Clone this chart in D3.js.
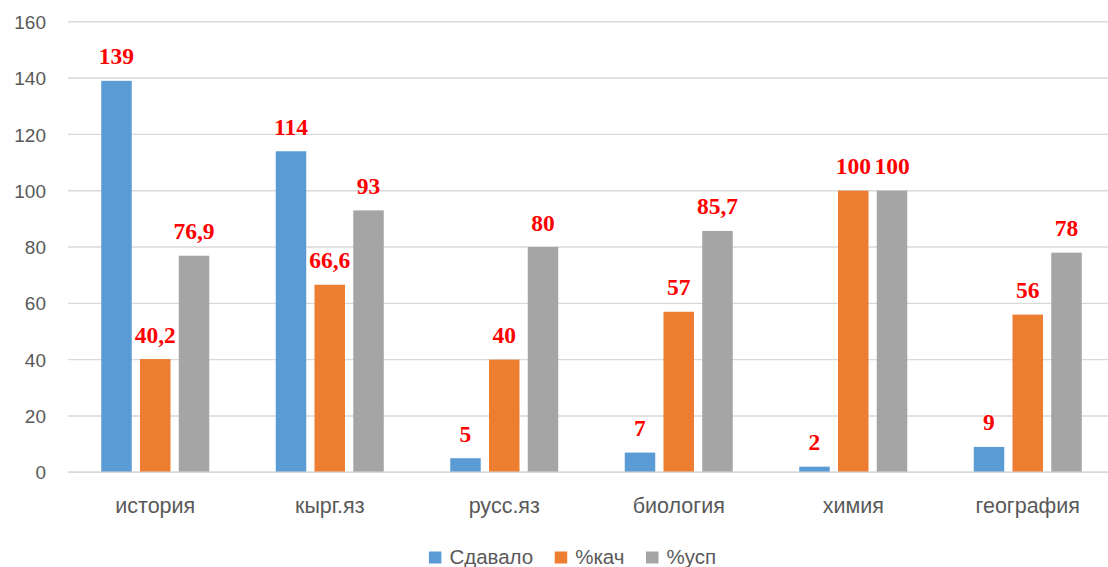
<!DOCTYPE html>
<html><head><meta charset="utf-8">
<script src="https://cdn.jsdelivr.net/npm/d3@7"></script>
<style>body{margin:0;background:#fff}svg{display:block}</style>
</head><body>
<svg id="c" width="1108" height="567"></svg>
<script>
const categories = ["история","кырг.яз","русс.яз","биология","химия","география"];
const seriesNames = ["Сдавало","%кач","%усп"];
const sdavalo = [139,114,5,7,2,9];
const kach = [40.2,66.6,40,57,100,56];
const usp = [76.9,93,80,85.7,100,78];
const yTicks = [0,20,40,60,80,100,120,140,160];
const colors = ["#5B9BD5","#ED7D31","#A5A5A5"];
const seriesValues = [sdavalo,kach,usp];

const svg = d3.select("#c");
const sansFont = "'Liberation Sans', Arial, sans-serif";
const x0 = d3.scaleBand().domain(categories).range([68,1115]).paddingInner(0).paddingOuter(0);
const x1 = d3.scaleBand().domain(seriesNames).range([0,x0.bandwidth()]).paddingInner(0.213).paddingOuter(0.858);
const y = d3.scaleLinear().domain([0,160]).range([472.3,21.7]);

// gridlines
svg.append("g").selectAll("line").data(yTicks).join("line")
  .attr("x1",68).attr("x2",1115)
  .attr("y1",d=>y(d)).attr("y2",d=>y(d))
  .attr("stroke","#D9D9D9").attr("stroke-width",1.4);

// y axis labels
const yAxis = d3.axisLeft(y).tickValues(yTicks).tickSize(0).tickPadding(0);
const ya = svg.append("g").attr("transform","translate(46,0)").call(yAxis);
ya.select(".domain").remove();
ya.selectAll("text").attr("font-family",sansFont).attr("font-size",19).attr("fill","#595959").attr("dy","0.35em");

// bars
const rows = categories.map((c,i)=>({c, vals: seriesNames.map((s,j)=>({s, v: seriesValues[j][i], j}))}));
const groups = svg.append("g").selectAll("g").data(rows).join("g")
  .attr("transform",d=>`translate(${x0(d.c)},0)`);
groups.selectAll("rect").data(d=>d.vals).join("rect")
  .attr("x",d=>x1(d.s)).attr("width",x1.bandwidth())
  .attr("y",d=>y(d.v)).attr("height",d=>y(0)-y(d.v))
  .attr("fill",d=>colors[d.j]);
groups.selectAll("text").data(d=>d.vals).join("text")
  .attr("x",d=>x1(d.s)+x1.bandwidth()/2).attr("y",d=>y(d.v)-16.5)
  .attr("text-anchor","middle")
  .attr("font-family","'Liberation Serif', 'Times New Roman', serif")
  .attr("font-weight","bold").attr("font-size",23.5).attr("fill","#FF0000")
  .text(d=>String(d.v).replace(".",","));

// baseline axis
svg.append("line").attr("x1",68).attr("x2",1115).attr("y1",y(0)).attr("y2",y(0))
  .attr("stroke","#D9D9D9").attr("stroke-width",1.4);

// x axis labels
const xAxis = d3.axisBottom(x0).tickSize(0).tickPadding(0);
const xa = svg.append("g").attr("transform","translate(0,512.5)").call(xAxis);
xa.select(".domain").remove();
xa.selectAll("text").attr("font-family",sansFont).attr("font-size",21.5).attr("fill","#595959").attr("dy",0);

// legend
const lg = svg.append("g");
const items = lg.selectAll("g").data(seriesNames).join("g");
items.append("rect").attr("width",12.5).attr("height",12).attr("y",551.5).attr("fill",(d,i)=>colors[i]);
items.append("text").attr("x",20.5).attr("y",563.5).text(d=>d)
  .attr("font-family",sansFont).attr("font-size",20.5).attr("fill","#595959");
let xpos = 0; const pos=[];
items.each(function(d,i){ const w = d3.select(this).select("text").node().getComputedTextLength(); pos.push(xpos); xpos += 20.5 + w + 21.5; });
const total = xpos - 21.5;
const start = 572.5 - total/2;
items.attr("transform",(d,i)=>`translate(${start+pos[i]},0)`);
</script>
</body></html>
